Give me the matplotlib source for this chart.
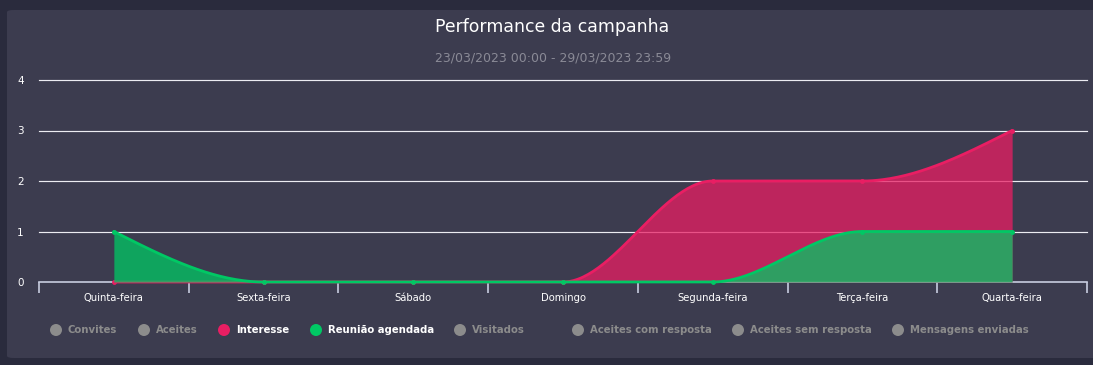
import numpy as np
import matplotlib
matplotlib.use("Agg")
import matplotlib.pyplot as plt
from matplotlib.patches import FancyBboxPatch, Circle

categories = ["Quinta-feira", "Sexta-feira", "Sábado", "Domingo", "Segunda-feira", "Terça-feira", "Quarta-feira"]
interesse = [0, 0, 0, 0, 2, 2, 3]
reuniao = [1, 0, 0, 0, 0, 1, 1]
y_ticks = [0, 1, 2, 3, 4]
legend_labels = ["Convites", "Aceites", "Interesse", "Reunião agendada", "Visitados",
                 "Aceites com resposta", "Aceites sem resposta", "Mensagens enviadas"]
legend_active = {"Interesse": "#e91e63", "Reunião agendada": "#00c864"}
title = "Performance da campanha"
subtitle = "23/03/2023 00:00 - 29/03/2023 23:59"

FONT = "DejaVu Sans"
W, H = 1093, 365
BG_OUT = "#2a2b3d"
BG_CARD = "#3c3c4f"


def monotone_curve(x, y, n=60):
    x = np.asarray(x, float); y = np.asarray(y, float)
    m = len(x)
    t = np.zeros(m)
    for i in range(1, m - 1):
        h0 = x[i] - x[i - 1]; h1 = x[i + 1] - x[i]
        s0 = (y[i] - y[i - 1]) / h0; s1 = (y[i + 1] - y[i]) / h1
        p = (s0 * h1 + s1 * h0) / (h0 + h1)
        t[i] = (np.sign(s0) + np.sign(s1)) * min(abs(s0), abs(s1), 0.5 * abs(p))
    h = x[1] - x[0]
    t[0] = (3 * (y[1] - y[0]) / h - t[1]) / 2
    h = x[-1] - x[-2]
    t[-1] = (3 * (y[-1] - y[-2]) / h - t[-2]) / 2
    xs, ys = [], []
    for i in range(m - 1):
        dx = (x[i + 1] - x[i]) / 3
        P0 = np.array([x[i], y[i]]); P3 = np.array([x[i + 1], y[i + 1]])
        P1 = np.array([x[i] + dx, y[i] + dx * t[i]])
        P2 = np.array([x[i + 1] - dx, y[i + 1] - dx * t[i + 1]])
        u = np.linspace(0, 1, n)[:, None]
        B = (1 - u) ** 3 * P0 + 3 * (1 - u) ** 2 * u * P1 + 3 * (1 - u) * u ** 2 * P2 + u ** 3 * P3
        if i > 0:
            B = B[1:]
        xs.append(B[:, 0]); ys.append(B[:, 1])
    return np.concatenate(xs), np.concatenate(ys)


fig = plt.figure(figsize=(W / 100, H / 100), dpi=100)
fig.patch.set_facecolor(BG_OUT)

card = FancyBboxPatch((7 / W, 7 / H), (W + 10 - 7) / W, (355 - 7) / H,
                      boxstyle="round,pad=0,rounding_size=0.006",
                      transform=fig.transFigure, facecolor=BG_CARD, edgecolor="none", zorder=-5)
fig.patches.append(card)

ax = fig.add_axes([39 / W, (H - 282) / H, (1087 - 39) / W, (282 - 80) / H])
ax.set_facecolor("none")
ax.set_zorder(2)
ax.set_xlim(-0.5, len(categories) - 0.5)
ax.set_ylim(0, 4)

x = np.arange(len(categories))
for yv in y_ticks:
    if yv == 0:
        continue
    ax.axhline(yv, color="#ececf2", lw=0.85, zorder=1, clip_on=False)

for series, col, z in [(interesse, "#e91e63", 3), (reuniao, "#00c864", 5)]:
    xs, ys = monotone_curve(x, series)
    ax.fill_between(xs, 0, ys, color=col, alpha=0.75, lw=0, zorder=z)
    ax.plot(xs, ys, color=col, lw=2, zorder=z + 1, solid_capstyle="round", clip_on=False)
    ax.plot(x, series, "o", color=col, ms=3.5, mec="none", zorder=z + 1, clip_on=False)

for s in ["top", "right", "left"]:
    ax.spines[s].set_visible(False)
ax.spines["bottom"].set_color("#c8cde0")
ax.spines["bottom"].set_linewidth(1.2)
ax.spines["bottom"].set_zorder(2)
ax.set_xticks(x)
ax.set_xticklabels(categories, fontsize=7.2, color="white", family=FONT)
ax.set_xticks(np.arange(-0.5, len(categories)), minor=True)
ax.tick_params(axis="x", which="major", length=0, pad=8)
ax.tick_params(axis="x", which="minor", length=8, width=1.2, color="#c8cde0")
ax.set_yticks(y_ticks)
ax.set_yticklabels([str(v) for v in y_ticks], fontsize=7.5, color="white", family=FONT)
ax.tick_params(axis="y", length=0, pad=11)

fig.text(552 / W, (H - 27) / H, title, ha="center", va="center", fontsize=12.4, color="white", family=FONT)
fig.text(553 / W, (H - 58) / H, subtitle, ha="center", va="center", fontsize=9, color="#8a8a96", family=FONT)

marker_x = [56, 144, 224, 316, 460, 578, 738, 898]
ly = (H - 330) / H
for mx, lab in zip(marker_x, legend_labels):
    active = lab in legend_active
    mcol = legend_active.get(lab, "#8c8c8c")
    tcol = "white" if active else "#8c8c8c"
    fig.patches.append(Circle((mx / 100, (H - 330) / 100), 6 / 100,
                              transform=fig.dpi_scale_trans,
                              facecolor=mcol, edgecolor="none"))
    fig.text((mx + 12) / W, ly, lab, ha="left", va="center", fontsize=7.3,
             fontweight="bold", color=tcol, family=FONT)

fig.savefig("out.png", dpi=100, facecolor=fig.get_facecolor())
